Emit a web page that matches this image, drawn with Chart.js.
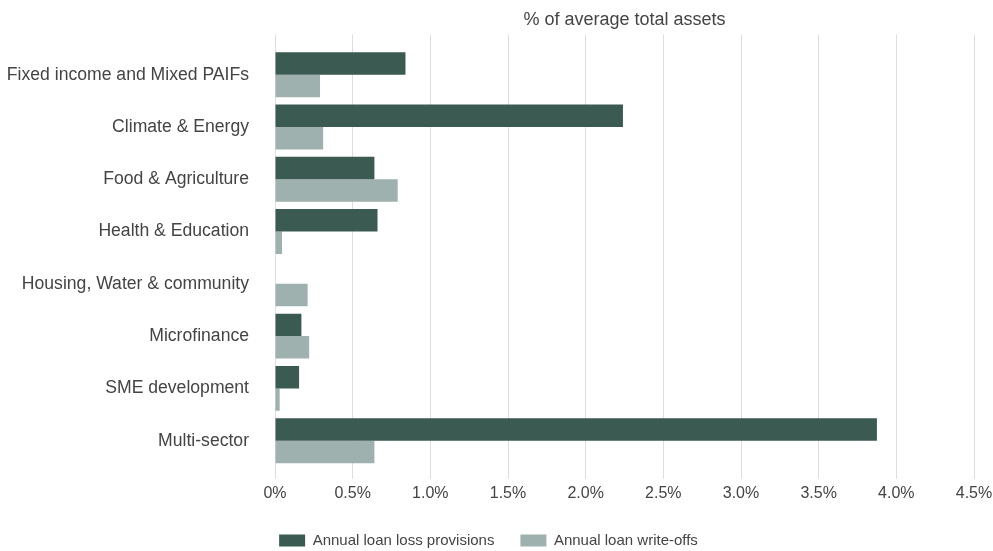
<!DOCTYPE html>
<html>
<head>
<meta charset="utf-8">
<script src="https://cdn.jsdelivr.net/npm/chart.js@4.4.1/dist/chart.umd.min.js"></script>
<style>
  html, body { margin: 0; padding: 0; background: #fff; }
  #wrap { width: 993px; height: 551px; }
</style>
</head>
<body>
<div id="wrap"><canvas id="barChart"></canvas></div>
<script>
// =============== D A T A =================================
const categories = [
  'Fixed income and Mixed PAIFs',
  'Climate & Energy',
  'Food & Agriculture',
  'Health & Education',
  'Housing, Water & community',
  'Microfinance',
  'SME development',
  'Multi-sector'
];
const provisions = [0.84, 2.24, 0.64, 0.66, 0, 0.17, 0.155, 3.875];
const writeOffs = [0.29, 0.31, 0.79, 0.045, 0.21, 0.22, 0.03, 0.64];
const xTicks = [0, 0.5, 1.0, 1.5, 2.0, 2.5, 3.0, 3.5, 4.0, 4.5];

// =============== D I A G R A M M =================================
const FONT = "'Liberation Sans', Arial, sans-serif";
const TEXT = '#444444';
const GRID = '#dddddd';

const barCtx = document.getElementById('barChart');

new Chart(barCtx, {
  type: 'bar',
  data: {
    labels: categories,
    datasets: [{
      label: 'Annual loan loss provisions',
      data: provisions,
      backgroundColor: '#3b5a52',
      categoryPercentage: 0.86,
      barPercentage: 1.0
    }, {
      label: 'Annual loan write-offs',
      data: writeOffs,
      backgroundColor: '#9fb1ae',
      categoryPercentage: 0.86,
      barPercentage: 1.0
    }]
  },
  options: {
    indexAxis: 'y',
    responsive: true,
    maintainAspectRatio: false,
    animation: false,
    layout: { padding: { left: 0, right: 16, top: 9, bottom: -7 } },
    plugins: {
      legend: {
        position: 'bottom',
        labels: {
          boxWidth: 26,
          boxHeight: 12,
          padding: 26,
          color: TEXT,
          font: { family: FONT, size: 15 }
        }
      },
      tooltip: { enabled: false }
    },
    scales: {
      x: {
        min: 0,
        max: 4.5,
        afterBuildTicks: (axis) => { axis.ticks = xTicks.map(v => ({ value: v })); },
        afterFit: (axis) => {
          axis.height -= 1;
          axis.paddingRight = 19; // keep 4.5% line close to the right edge
        },
        ticks: {
          color: TEXT,
          padding: 5,
          font: { family: FONT, size: 16 },
          callback: (v) => (v === 0 ? '0%' : v.toFixed(1) + '%')
        },
        grid: { color: GRID, lineWidth: 1, tickLength: 12 },
        border: { display: false }
      },
      x2: {
        position: 'top',
        min: 0,
        max: 4.5,
        afterBuildTicks: (axis) => { axis.ticks = xTicks.map(v => ({ value: v })); },
        ticks: { display: false },
        grid: { color: GRID, lineWidth: 1, tickLength: 14, drawOnChartArea: false },
        border: { display: false },
        title: {
          display: true,
          text: '% of average total assets',
          color: TEXT,
          padding: { top: 0, bottom: 4 },
          font: { family: FONT, size: 18 }
        }
      },
      y: {
        afterFit: (axis) => { axis.width = 275; },
        ticks: {
          color: TEXT,
          padding: 26,
          font: { family: FONT, size: 17.6 }
        },
        grid: { display: false, drawTicks: false },
        border: { display: false }
      }
    }
  }
});
</script>
</body>
</html>
